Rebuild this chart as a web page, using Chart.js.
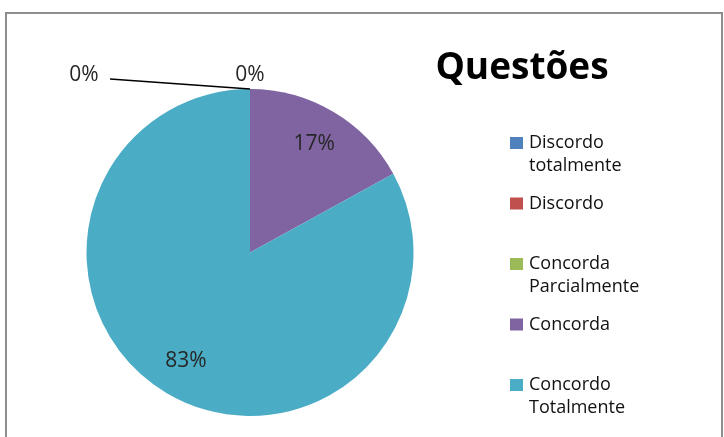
<!DOCTYPE html>
<html>
<head>
<meta charset="utf-8">
<script src="https://cdn.jsdelivr.net/npm/chart.js@4.4.1/dist/chart.umd.min.js"></script>
<style>
  body { margin: 0; background: #fff; }
  #wrap { position: relative; width: 724px; height: 437px; overflow: hidden; }
  #frame { position: absolute; left: 5px; top: 12px; width: 718px; height: 440px; border: 2px solid #8d8d8d; box-sizing: border-box; }
  canvas { position: absolute; left: 0; top: 0; }
</style>
</head>
<body>
<div id="wrap">
  <div id="frame"></div>
  <canvas id="pieChart" width="724" height="437"></canvas>
</div>
<script>
const labels = ['Discordo totalmente', 'Discordo', 'Concorda Parcialmente', 'Concorda', 'Concordo Totalmente'];
const values = [0, 0, 0, 17, 83];
const colors = ['#4F81BD', '#C0504D', '#9BBB59', '#8064A2', '#4BACC6'];
const chartTitle = 'Questões';

// title, side legend and percent labels drawn like the Excel original
const pieText = {
    id: 'pieText',
    afterDraw(chart, args, opts) {
        const ctx = chart.ctx;
        ctx.save();

        // title
        ctx.fillStyle = '#000';
        ctx.font = 'bold 37px "Open Sans"';
        ctx.textAlign = 'center';
        ctx.textBaseline = 'middle';
        ctx.fillText(opts.title, 522, 68);

        // legend
        ctx.font = '18px "Open Sans"';
        ctx.textAlign = 'left';
        chart.data.labels.forEach((lab, i) => {
            const y = 143 + i * 60.5;
            ctx.fillStyle = chart.data.datasets[0].backgroundColor[i];
            ctx.fillRect(510, y - 6, 13, 12);
            ctx.fillStyle = '#111';
            let lines = [lab];
            if (ctx.measureText(lab).width > 125) {
                const words = lab.split(' ');
                lines = [words[0], words.slice(1).join(' ')];
            }
            lines.forEach((t, k) => ctx.fillText(t, 529, y + k * 23));
        });

        // percent labels
        const meta = chart.getDatasetMeta(0);
        const data = chart.data.datasets[0].data;
        const total = data.reduce((a, b) => a + b, 0);
        ctx.font = '21px "Open Sans"';
        ctx.textAlign = 'center';
        ctx.fillStyle = '#262626';
        let zeroCount = 0;
        meta.data.forEach((arc, i) => {
            const v = data[i];
            const txt = Math.round(v / total * 100) + '%';
            if (v > 0) {
                const mid = (arc.startAngle + arc.endAngle) / 2;
                const r = arc.outerRadius * 0.77;
                ctx.fillText(txt, arc.x + Math.cos(mid) * r, arc.y + Math.sin(mid) * r);
                return;
            }
            const spot = opts.zeroSpots[zeroCount++];
            if (!spot) return;
            const px = arc.x + Math.cos(arc.startAngle) * arc.outerRadius;
            const py = arc.y + Math.sin(arc.startAngle) * arc.outerRadius;
            if (spot.line) {
                ctx.strokeStyle = '#000';
                ctx.lineWidth = 1.5;
                ctx.beginPath();
                ctx.moveTo(px + spot.dx + 26, py + spot.dy + 4);
                ctx.lineTo(px, py);
                ctx.stroke();
            }
            ctx.fillText(txt, px + spot.dx, py + spot.dy);
        });
        ctx.restore();
    }
};

const ctx = document.getElementById('pieChart').getContext('2d');
new Chart(ctx, {
    type: 'pie',
    data: {
        labels: labels,
        datasets: [{
            data: values,
            backgroundColor: colors,
            borderWidth: 0
        }]
    },
    options: {
        responsive: false,
        animation: false,
        layout: {
            padding: { left: 86, right: 310, top: 89, bottom: 21 }
        },
        plugins: {
            legend: { display: false },
            tooltip: { enabled: false },
            pieText: {
                title: chartTitle,
                zeroSpots: [{ dx: -166, dy: -14, line: true }, { dx: 0, dy: -14 }, null]
            }
        }
    },
    plugins: [pieText]
});
</script>
</body>
</html>
